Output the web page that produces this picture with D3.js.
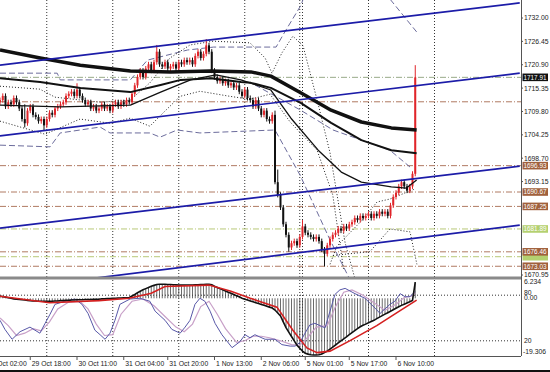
<html>
<head>
<script src="https://d3js.org/d3.v7.min.js"></script>
<style>
  body { margin: 0; background: #fff; }
  svg { display: block; font-family: "Liberation Sans", Arial, sans-serif; }
</style>
</head>
<body>
<div id="chart"></div>
<script>
// hourly bars, 29 Oct 07:00 .. 6 Nov 17:00
var firstOpen = 1712.0
var closes = [
  1712.5,1713.5,1711.0,1712.0,1711.5,1713.0,1712.0,1710.5,1708.0,1707.0,
  1710.0,1711.0,1709.0,1708.5,1707.5,1708.0,1706.5,1708.0,1709.5,1709.0,
  1710.5,1711.0,1711.5,1712.0,1713.5,1714.0,1714.5,1713.5,1715.0,1713.5,
  1712.5,1711.5,1712.0,1710.5,1711.0,1710.0,1710.5,1711.5,1710.5,1711.0,
  1710.0,1711.5,1712.0,1711.0,1712.0,1711.5,1712.5,1712.0,1714.0,1716.0,
  1718.0,1719.5,1718.0,1720.0,1721.0,1719.5,1721.5,1724.0,1721.0,1720.5,
  1721.5,1720.0,1720.5,1721.0,1720.0,1721.5,1721.0,1722.0,1721.5,1722.0,
  1721.0,1723.0,1724.0,1722.5,1723.5,1725.5,1724.0,1719.5,1718.0,1717.0,
  1717.5,1716.5,1717.0,1716.0,1716.5,1715.5,1716.0,1714.5,1713.5,1715.0,
  1713.0,1712.5,1711.0,1712.5,1710.5,1709.0,1710.0,1708.0,1707.5,1709.0,
  1693.0,1690.0,1687.0,1683.0,1680.5,1677.5,1678.5,1679.0,1678.0,1680.0,
  1682.5,1681.0,1680.5,1680.0,1679.5,1680.0,1679.0,1677.0,1676.0,1678.0,
  1679.5,1680.5,1681.0,1682.0,1681.5,1682.5,1682.0,1683.0,1683.5,1684.5,
  1684.0,1685.0,1684.5,1685.0,1685.5,1684.5,1685.5,1685.0,1686.0,1685.5,
  1686.0,1685.0,1687.5,1689.5,1690.5,1692.0,1693.0,1692.0,1691.0,1692.0,
  1695.0,1717.9
]
var wick = 0.6
var highs = {9: 1711.5, 28: 1716.5, 57: 1725.6, 75: 1727.0, 100: 1710.0, 101: 1696.0, 110: 1684.0, 151: 1720.8}
var lows = {9: 1706.0, 16: 1705.4, 100: 1692.5, 105: 1676.5, 118: 1673.0}

// moving averages, [bar, price]
var maSlow = [[0,1724.4],[14.6,1722.5],[29.2,1720.8],[47.4,1719.4],[62,1719.2],[76.6,1719.4],[91.2,1719.2],
  [98.5,1718.2],[109.5,1714.2],[120.4,1710.1],[131.4,1707.3],[142.3,1705.9],[151.5,1705.4]]
var maMid = [[0,1717.7],[14.6,1716.8],[29.2,1715.4],[47.4,1714.4],[58.4,1716.1],[65.7,1717.3],[76.6,1717.7],
  [87.6,1716.8],[91.2,1716.6],[98.5,1715.4],[109.5,1711.8],[120.4,1707.1],[131.4,1703.0],[142.3,1700.6],[151.5,1699.9]]
var maFast = [[0,1711.3],[21.9,1710.9],[47.4,1711.3],[58.4,1714.4],[69.3,1717.3],[78.5,1718.5],[87.6,1717.3],
  [93.1,1716.1],[98.5,1714.9],[105.8,1708.2],[115.7,1700.6],[124.1,1695.4],[131.4,1693.0],[142.3,1691.9],[147.8,1691.6],[151.5,1693.5]]

// bollinger style dashed bands
var bandUp = [[0,1718.9],[20.8,1718.9],[21.9,1717.3],[47.4,1717.3],[53.6,1722.0],[68.2,1724.4],[77.7,1725.1],
  [100.4,1725.1],[103.3,1728.4],[109.5,1735.1],[112,1740],[124,1752],[138.7,1739],[151.5,1728.7]]
var bandLow = [[0,1701.8],[18.2,1701.4],[21.9,1704.7],[36.4,1706.1],[40,1704.7],[54.5,1704.7],[58.2,1703.7],
  [64.4,1705.4],[72.7,1704.7],[100,1705.4],[109.1,1694.7],[120,1679.3],[127.3,1669.8],[131,1664]]
var bandMid = [[92.7,1716.1],[109.1,1710.2],[121.1,1705.4],[141.8,1700.6],[149.1,1696.6]]

// dotted envelopes
var dotA = [[0,1715.8],[14.5,1715.1],[20,1713.2],[36.4,1712.0],[47.3,1712.5],[54.5,1716.6],[61.8,1722.5],
  [69.1,1725.6],[77.5,1726.5],[90.9,1726.1],[96.4,1722.5],[98.9,1718.9],[102.5,1723.7],[106.5,1727.7],
  [110.2,1725.4],[115.6,1711.8],[120,1700.0],[125.5,1678.6],[129.1,1670]]
var dotB = [[0,1707.5],[16.4,1704.4],[29.1,1708.0],[40,1707.0],[47.3,1708.2],[54.5,1706.3],[60,1709.9],
  [65.5,1713.4],[72.7,1714.6],[83.6,1713.4],[90.9,1712.7],[98.2,1713.9],[105.5,1707.3],[115.3,1700.6],[121,1690],[125,1672]]
var dotC = [[120,1673.5],[122.5,1677.8],[132,1684.2],[137.1,1688.3],[141.8,1689.0],[150.9,1691.4]]
var dotD = [[121.1,1675.6],[134.5,1676.5],[141.8,1681.9],[149.1,1681.2],[151.6,1673.5]]

// channel lines, [bar, price] at both ends
var channels = [
  [[0,1720.8],[189,1735.6]],
  [[0,1704.0],[189,1718.9]],
  [[0,1682.1],[189,1696.8]],
  [[0,1667.4],[189,1682.8]]
]

// price levels with their axis labels
var levels = [
  {p: 1717.91, kind: "cur"},
  {p: 1712.1, kind: "brown", hide: true},
  {p: 1696.93, kind: "brown"},
  {p: 1690.67, kind: "brown"},
  {p: 1687.25, kind: "brown"},
  {p: 1681.89, kind: "green"},
  {p: 1675.3, kind: "green", noText: true},
  {p: 1676.46, kind: "brown"},
  {p: 1673.03, kind: "brown"}
]
var priceTicks = [1732.00, 1726.45, 1720.90, 1715.35, 1709.80, 1704.25, 1698.70, 1693.15, 1670.95]

var dayLines = [17, 41, 65, 89, 109, 110, 134, 158]
var timeTicks = [-5, 11, 28, 45, 61, 78, 95, 111, 127, 144]
var timeLabels = ["29 Oct 02:00","29 Oct 18:00","30 Oct 11:00","31 Oct 04:00","31 Oct 20:00",
  "1 Nov 13:00","2 Nov 06:00","5 Nov 01:00","5 Nov 17:00","6 Nov 10:00"]

// lower panel: macd histogram per bar, signal and stochastic
var macd = [
  0.7,0.6,0.4,0.2,0.0,-0.2,
  -0.3,-0.4,-0.5,-0.6,-0.7,-0.8,-0.9,-0.9,-1.0,-1.0,-1.0,-1.0,
  -1.0,-1.0,-0.9,-0.9,-0.8,-0.8,-0.7,-0.7,-0.6,-0.6,-0.5,-0.5,-0.5,-0.4,-0.4,-0.4,-0.3,-0.3,
  -0.3,-0.2,-0.2,-0.1,-0.1,0.0,0.0,0.1,0.1,0.2,0.2,
  0.3,0.8,1.3,1.9,2.4,2.9,3.3,3.7,4.1,4.4,4.7,4.8,
  4.8,4.8,4.7,4.7,4.6,4.6,4.5,4.5,4.5,4.5,4.5,4.5,4.6,4.6,4.7,4.7,4.8,4.8,4.6,
  4.1,3.7,3.3,2.9,2.5,2.1,1.7,1.3,0.9,0.5,0.0,
  -0.3,-0.6,-0.9,-1.2,-1.5,-1.8,-2.1,-2.4,-2.7,-3.0,-3.3,
  -4.0,-5.0,-6.0,-8.0,-10.0,-11.5,-13.0,-14.5,-16.0,-17.0,-18.0,
  -18.7,-19.0,-19.2,-19.3,-19.3,-19.2,-19.0,
  -18.5,-18.0,-17.3,-16.6,-15.9,-15.2,-14.5,-13.8,-13.1,-12.4,-11.7,
  -11.0,-10.3,-9.7,-9.2,-8.8,-8.3,-7.9,-7.5,-6.9,-6.4,-5.9,
  -5.4,-4.9,-4.4,-3.9,-3.4,-2.9,-2.4,-2.0,-1.6,-1.2,-0.7,5.5
]
var signal = [[0,0.7],[18,-1.5],[36,-0.8],[47,0],[55,1.7],[60,4.0],[76,4.5],[84,2.4],[91,0],[100.7,-3.0],
  [106.5,-10.9],[111.6,-16.9],[115.3,-18.5],[120,-18.0],[127.3,-14.4],[137,-9.3],[145.5,-4.2],[151.5,-0.6]]
var stochMain = [[0,47],[1.8,35],[4.4,22],[7.3,32],[10.9,38],[14.5,30],[16.4,43],[18.2,55],[20,68],[23.6,72],
  [27.3,75],[29.8,68],[32,56],[34.5,34],[36.4,28],[38.2,22],[40,30],[41.8,47],[43.6,68],[47.3,75],[50.9,76],
  [54.5,72],[56.4,59],[60,47],[62.5,35],[65.5,30],[67.3,38],[69.1,47],[70.9,68],[72.7,76],[74.5,72],[76.4,59],
  [78.2,43],[80.7,28],[84.4,11],[87.3,19],[89.1,28],[90.9,24],[92.7,28],[94.5,25],[96.4,22],[100,22],[102.5,15],
  [105.5,13],[107.3,13],[109.1,18],[110.9,30],[112.7,41],[114.5,43],[118.2,37],[120,59],[121.8,81],[123.6,87],
  [125.5,89],[129.1,82],[132.7,76],[136.4,63],[138.2,56],[141.8,68],[143.6,72],[145.5,82],[147.3,78],[149.1,78],[150.9,85]]
var stochSig = [[0,50],[3,40],[6,27],[9,30],[12,36],[15,33],[18,45],[21,62],[25,71],[29,72],[32,62],[35,42],
  [38,27],[41,28],[44,55],[48,72],[52,75],[56,66],[60,52],[64,38],[67,32],[70,42],[73,65],[76,72],[79,55],
  [82,36],[86,18],[89,20],[92,26],[95,26],[98,24],[102,20],[106,15],[109,14],[112,25],[115,38],[119,40],
  [122,65],[125,84],[128,87],[132,80],[136,70],[140,60],[144,68],[147,77],[150,79],[151,83]]

var W = 550, H = 372
var plotR = 521
var svg = d3.select("#chart").append("svg").attr("width", W).attr("height", H)

var x = d3.scaleLinear().domain([0, 189]).range([0, 519.75])
var y = d3.scaleLinear().domain([1670.48, 1736.28]).range([277, 0])
var yS = d3.scaleLinear().domain([0, 100]).range([356, 280])
var yM = d3.scaleLinear().domain([-19.306, 6.234]).range([355, 280])

var defs = svg.append("defs")
defs.append("clipPath").attr("id", "clipMain").append("rect").attr("x", 0).attr("y", 0).attr("width", plotR).attr("height", 277)
defs.append("clipPath").attr("id", "clipLow").append("rect").attr("x", 0).attr("y", 280).attr("width", plotR).attr("height", 76)

var main = svg.append("g").attr("clip-path", "url(#clipMain)")
var low = svg.append("g").attr("clip-path", "url(#clipLow)")

// day separators
main.selectAll("line.day").data(dayLines).join("line").attr("class", "day")
  .attr("x1", d => x(d)).attr("x2", d => x(d)).attr("y1", 0).attr("y2", 277)
  .attr("stroke", "#333").attr("stroke-dasharray", "1,2")
low.selectAll("line.day").data(dayLines).join("line").attr("class", "day")
  .attr("x1", d => x(d)).attr("x2", d => x(d)).attr("y1", 280).attr("y2", 356)
  .attr("stroke", "#333").attr("stroke-dasharray", "1,2")

// horizontal levels
var levelColor = {cur: "#98aa88", brown: "#b07a62", green: "#b8c878"}
main.selectAll("line.lvl").data(levels).join("line").attr("class", "lvl")
  .attr("x1", 0).attr("x2", plotR).attr("y1", d => y(d.p)).attr("y2", d => y(d.p))
  .attr("stroke", d => levelColor[d.kind]).attr("stroke-dasharray", "6,2,1,2")

var line = d3.line().x(d => x(d[0])).y(d => y(d[1]))

function path(g, data, color, width, dash) {
  g.append("path").datum(data).attr("d", line)
    .attr("fill", "none").attr("stroke", color).attr("stroke-width", width)
    .attr("stroke-dasharray", dash || null).attr("stroke-linejoin", "round")
}

path(main, bandUp, "#6c6c9c", 1, "6,3")
path(main, bandLow, "#6c6c9c", 1, "6,3")
path(main, bandMid, "#6c6c9c", 1, "6,3")
path(main, dotA, "#222", 1, "1,2")
path(main, dotB, "#222", 1, "1,2")
path(main, dotC, "#222", 1, "1,2")
path(main, dotD, "#222", 1, "1,2")

// candles
var bars = closes.map((c, i) => {
  var o = i == 0 ? firstOpen : closes[i-1]
  return {
    i: i, o: o, c: c,
    h: highs[i] != null ? highs[i] : Math.max(o, c) + wick,
    l: lows[i] != null ? lows[i] : Math.min(o, c) - wick
  }
})
var cg = main.selectAll("g.bar").data(bars).join("g").attr("class", "bar")
cg.append("line")
  .attr("x1", d => x(d.i)).attr("x2", d => x(d.i)).attr("y1", d => y(d.h)).attr("y2", d => y(d.l))
  .attr("stroke", d => d.c >= d.o ? "#e0252a" : "#111")
cg.append("rect")
  .attr("x", d => x(d.i) - 1).attr("width", 2)
  .attr("y", d => y(Math.max(d.o, d.c))).attr("height", d => Math.max(1, Math.abs(y(d.o) - y(d.c))))
  .attr("fill", d => d.c >= d.o ? "#e0252a" : "#111")

path(main, maFast, "#111", 1.3)
path(main, maMid, "#111", 2)
path(main, maSlow, "#111", 3.5)

channels.forEach(c => path(main, c, "#1c1ca8", 1.7))

// lower panel
low.selectAll("line.hl").data([80, 20]).join("line").attr("class", "hl")
  .attr("x1", 0).attr("x2", plotR).attr("y1", d => yS(d)).attr("y2", d => yS(d))
  .attr("stroke", "#333").attr("stroke-dasharray", "1,2")
low.selectAll("line.hist").data(macd).join("line").attr("class", "hist")
  .attr("x1", (d, i) => x(i)).attr("x2", (d, i) => x(i))
  .attr("y1", yM(0)).attr("y2", d => yM(d))
  .attr("stroke", "#444").attr("stroke-width", 0.8)

var lineS = d3.line().x(d => x(d[0])).y(d => yS(d[1]))
var lineM = d3.line().x(d => x(d[0])).y(d => yM(d[1]))
low.append("path").datum(stochSig).attr("d", lineS).attr("fill", "none").attr("stroke", "#c8a0c8").attr("stroke-width", 1.2)
low.append("path").datum(stochMain).attr("d", lineS).attr("fill", "none").attr("stroke", "#5858a8").attr("stroke-width", 1)
low.append("path").datum(macd.map((v, i) => [i, v])).attr("d", lineM).attr("fill", "none").attr("stroke", "#111").attr("stroke-width", 1.6)
low.append("path").datum(signal).attr("d", lineM).attr("fill", "none").attr("stroke", "#d42020").attr("stroke-width", 1.6)

// frame
svg.append("rect").attr("x", 0).attr("y", 276.5).attr("width", plotR).attr("height", 3).attr("fill", "#8a8a8a")
svg.append("line").attr("x1", plotR + 0.5).attr("x2", plotR + 0.5).attr("y1", 0).attr("y2", 356).attr("stroke", "#555")
svg.append("line").attr("x1", 0).attr("x2", plotR).attr("y1", 356.5).attr("y2", 356.5).attr("stroke", "#555")
svg.append("rect").attr("x", 0).attr("y", 370).attr("width", W).attr("height", 2).attr("fill", "#111")

// price axis
var ax = svg.append("g").attr("font-size", "6.8px").attr("fill", "#222")
ax.selectAll("text.pt").data(priceTicks).join("text").attr("class", "pt")
  .attr("x", 524).attr("y", d => y(d) + 2.4).text(d => d.toFixed(2))
ax.selectAll("line.pt").data(priceTicks).join("line").attr("class", "pt")
  .attr("x1", plotR).attr("x2", plotR + 2).attr("y1", d => y(d)).attr("y2", d => y(d)).attr("stroke", "#555")

var boxFill = {cur: "#111", brown: "#a0603c", green: "#b4d070"}
var lab = ax.selectAll("g.lab").data(levels.filter(d => !d.hide)).join("g").attr("class", "lab")
lab.append("rect").attr("x", 522.5).attr("y", d => y(d.p) - 3.8).attr("width", 25.5).attr("height", 7.6)
  .attr("fill", d => boxFill[d.kind])
lab.filter(d => !d.noText).append("text").attr("x", 523.5).attr("y", d => y(d.p) + 2.3)
  .attr("fill", "#fff").attr("font-size", "6.4px")
  .attr("textLength", 23).attr("lengthAdjust", "spacingAndGlyphs")
  .text(d => d.p.toFixed(2))

// lower panel axis labels
var lowLabels = [
  {t: "6.234", y: yM(6.234) + 3.5},
  {t: "80", y: yS(80) - 0.5},
  {t: "0.00", y: yM(0) + 2},
  {t: "20", y: yS(20) + 2.4},
  {t: "-19.306", y: yM(-19.306) - 1}
]
ax.selectAll("text.lo").data(lowLabels).join("text").attr("class", "lo")
  .attr("x", d => d.t.startsWith("-") ? 523 : 524).attr("y", d => d.y).text(d => d.t)

// time axis
var tx = svg.append("g").attr("font-size", "6.8px").attr("fill", "#222")
tx.selectAll("line").data(timeTicks).join("line")
  .attr("x1", d => x(d)).attr("x2", d => x(d)).attr("y1", 357).attr("y2", 360).attr("stroke", "#555")
tx.selectAll("text").data(timeTicks).join("text")
  .attr("x", d => x(d) + 1.5).attr("y", 365.5).text((d, i) => timeLabels[i])
</script>
</body>
</html>
